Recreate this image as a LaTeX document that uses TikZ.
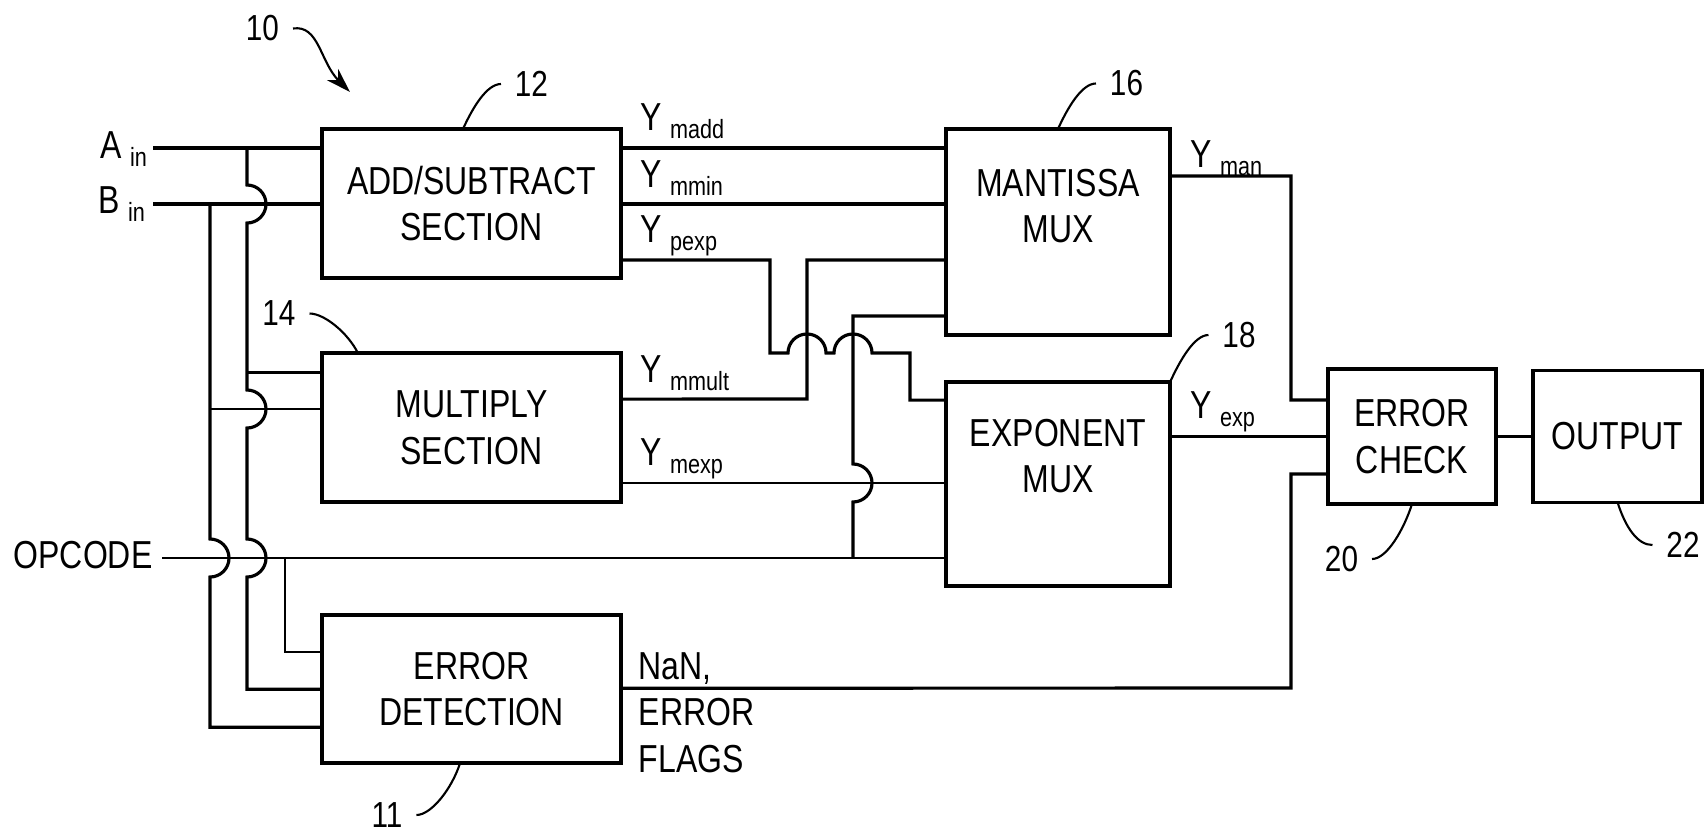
\documentclass[tikz,border=0pt]{standalone}
\usepackage{fontspec}
\setmainfont{Liberation Sans}[FakeStretch=0.82]
\usetikzlibrary{arrows.meta, positioning}

\newcommand{\boxfont}{\fontsize{11.1}{13.2}\selectfont}
\newcommand{\numfont}{\fontsize{10.3}{12}\selectfont}
\newcommand{\subsig}[2]{#1\hspace{2.3pt}\raisebox{-2.3pt}{\fontsize{7.5}{9}\selectfont #2}}
\newcommand{\hop}{0.19cm}

\begin{document}
\begin{tikzpicture}[x=0.01cm, y=-0.01cm,
  blk/.style={draw, line width=1.1pt, inner sep=0pt, outer sep=0pt,
              align=center, font=\boxfont},
  txt/.style={inner sep=0pt, align=center, font=\boxfont},
  sig/.style={inner sep=0pt, anchor=base west, font=\boxfont},
  refnum/.style={inner sep=0pt, outer sep=0.14cm, font=\numfont},
  wire/.style={line width=0.9pt},
  wirethin/.style={line width=0.65pt},
  lead/.style={line width=0.6pt}
]
  \useasboundingbox (0,0) rectangle (1708,833);

  % blocks
  \node[blk, minimum width=2.99cm, minimum height=1.49cm] (add) at (471.5,203.5) {ADD/SUBTRACT\\SECTION};
  \node[blk, minimum width=2.99cm, minimum height=1.49cm, below=0.75cm of add] (mult) {MULTIPLY\\SECTION};
  \node[blk, minimum width=2.99cm, minimum height=1.48cm, below=1.13cm of mult] (errd) {ERROR\\DETECTION};
  \node[blk, minimum width=2.24cm, minimum height=2.06cm] (mant) at (1058,232) {};
  \node[blk, minimum width=2.24cm, minimum height=2.04cm, below=0.47cm of mant] (expo) {};
  \node[txt] (manttxt) at ([yshift=0.26cm]mant.center) {MANTISSA\\MUX};
  \node[txt] (expotxt) at ([yshift=0.28cm]expo.center) {EXPONENT\\MUX};
  \node[blk, minimum width=1.68cm, minimum height=1.35cm] (chk) at (1412,436.5) {ERROR\\CHECK};
  \node[blk, minimum width=1.69cm, minimum height=1.32cm, right=0.37cm of chk] (outp) {OUTPUT};

  % inputs
  \node[sig] (alab)  at (100,158) {\subsig{A}{in}};
  \node[sig] (blab)  at (98,213)  {\subsig{B}{in}};
  \node[sig] (oplab) at (13,568)  {OPCODE};
  \coordinate (ain)    at (153,148);
  \coordinate (bin)    at (153,204);
  \coordinate (opin)   at (162,558);
  \coordinate (abus)   at (247,148);
  \coordinate (bbus)   at (210,204);
  \coordinate (optap)  at (285,558);
  \coordinate (optap2) at (853,558);

  % pins
  \coordinate (mult-a) at ([yshift=0.555cm]mult.west);
  \coordinate (mult-b) at ([yshift=0.185cm]mult.west);
  \coordinate (errd-o) at ([yshift=0.37cm]errd.west);
  \coordinate (errd-b) at ([yshift=-0.38cm]errd.west);
  \coordinate (add-p)  at ([yshift=-0.565cm]add.east);
  \coordinate (mult-m) at ([yshift=0.285cm]mult.east);
  \coordinate (mult-e) at ([yshift=-0.555cm]mult.east);
  \coordinate (errd-n) at ([yshift=0.01cm]errd.east);
  \coordinate (mant-3) at ([yshift=-0.28cm]mant.west);
  \coordinate (mant-4) at ([yshift=-0.84cm]mant.west);
  \coordinate (mant-o) at ([yshift=0.56cm]mant.east);
  \coordinate (expo-1) at ([yshift=0.84cm]expo.west);
  \coordinate (chk-1)  at ([yshift=0.365cm]chk.west);
  \coordinate (chk-3)  at ([yshift=-0.375cm]chk.west);

  % operand buses
  \draw[wire] (ain) -- (ain -| add.west);
  \draw[wire] (bin) -- (bin -| add.west);
  \draw[wire] (abus) -- (247,185) arc[start angle=90, end angle=-90, radius=\hop]
    -- (247,390) arc[start angle=90, end angle=-90, radius=\hop]
    -- (247,539) arc[start angle=90, end angle=-90, radius=\hop]
    -- (abus |- errd.west) -- (errd.west);
  \draw[wire] (abus |- mult-a) -- (mult-a);
  \draw[wire] (bbus) -- (210,539) arc[start angle=90, end angle=-90, radius=\hop]
    -- (bbus |- errd-b) -- (errd-b);
  \draw[wirethin] (bbus |- mult-b) -- (mult-b);

  % opcode
  \draw[wirethin] (opin) -- (opin -| expo.west);
  \draw[wirethin] (optap) |- (errd-o);
  \draw[wire] (optap2) -- (853,502) arc[start angle=-90, end angle=90, radius=\hop]
    -- (optap2 |- mant-4) -- (mant-4);

  % section outputs
  \draw[wire] (add.east |- ain) -- (mant.west |- ain);
  \draw[wire] (add.east |- bin) -- (mant.west |- bin);
  \draw[wire] (add-p) -- (770,260) -- (770,353) -- (788,353)
    arc[start angle=180, end angle=0, radius=\hop] -- (834,353)
    arc[start angle=180, end angle=0, radius=\hop] -- (910,353)
    |- (expo-1);
  \draw[wire] (mult-m) -- (807,399) |- (mant-3);
  \draw[wirethin] (mult-e) -- (mult-e -| expo.west);
  \draw[wire] (errd-n) -- (1291,688) |- (chk-3);

  % to error check and output
  \draw[wire] (mant-o) -- (1291,176) |- (chk-1);
  \draw[wirethin] (expo.east |- chk.west) -- (chk.west);
  \draw[wirethin] (chk.east) -- (chk.east -| outp.west);

  % signal labels
  \node[sig] (ymadd)  at (640,130)  {\subsig{Y}{madd}};
  \node[sig] (ymmin)  at (640,187)  {\subsig{Y}{mmin}};
  \node[sig] (ypexp)  at (640,242)  {\subsig{Y}{pexp}};
  \node[sig] (ymmult) at (640,382)  {\subsig{Y}{mmult}};
  \node[sig] (ymexp)  at (640,465)  {\subsig{Y}{mexp}};
  \node[sig] (yman)   at (1190,167) {\subsig{Y}{man}};
  \node[sig] (yexp)   at (1190,418) {\subsig{Y}{exp}};
  \node[txt, align=left, anchor=north west] (flags) at (638,652) {NaN,\\ERROR\\FLAGS};

  % reference numerals
  \node[refnum] (n10) at (262.5,28.5) {10};
  \node[refnum] (n12) at (531.5,84)   {12};
  \node[refnum] (n14) at (279,313.5)  {14};
  \node[refnum] (n16) at (1126.5,83.5) {16};
  \node[refnum] (n18) at (1239,335)   {18};
  \node[refnum] (n20) at (1341.5,559) {20};
  \node[refnum] (n22) at (1683,545)   {22};
  \node[refnum] (n11) at (387,815)    {11};
  \coordinate (sys) at (350,92);

  \draw[lead, -{Stealth[length=7pt, width=4.5pt]}] (n10.east) .. controls +(26,-4) and +(-30,-30) .. (sys);
  \draw[lead] (n12.west) .. controls +(-14,0) and +(10,-22) .. ([xshift=-0.085cm]add.north);
  \draw[lead] (n14.east) .. controls +(15,0) and +(-10,-20) .. ([xshift=0.36cm]mult.north west);
  \draw[lead] (n16.west) .. controls +(-14,0) and +(10,-22) .. (mant.north);
  \draw[lead] (n18.west) .. controls +(-14,0) and +(10,-22) .. (expo.north east);
  \draw[lead] (n20.east) .. controls +(15,0) and +(-8,25) .. (chk.south);
  \draw[lead] (n22.west) .. controls +(-15,0) and +(8,25) .. (outp.south);
  \draw[lead] (n11.east) .. controls +(15,0) and +(-8,25) .. ([xshift=-0.115cm]errd.south);
\end{tikzpicture}
\end{document}
